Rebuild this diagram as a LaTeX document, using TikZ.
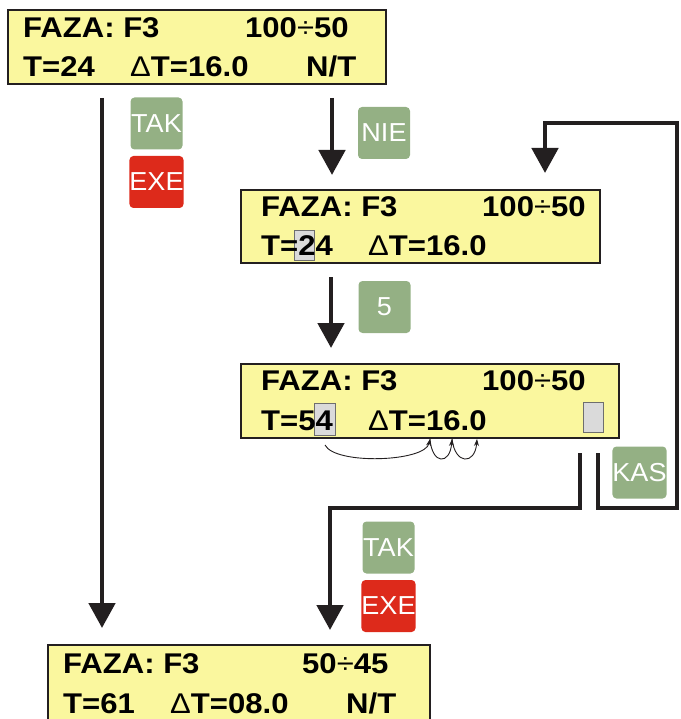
\documentclass[tikz,border=0pt]{standalone}
\usepackage{fontspec}
\setmainfont{Liberation Sans}
\newfontfamily\lcdfont{Liberation Sans}[FakeStretch=1.09]
\newfontfamily\keyfont{Liberation Sans}[FakeStretch=1.04]
\usetikzlibrary{arrows.meta}
\definecolor{lcdyellow}{RGB}{250,247,158}
\definecolor{ink}{RGB}{35,31,32}
\definecolor{keygreen}{RGB}{148,176,132}
\definecolor{keyred}{RGB}{221,42,27}
\definecolor{hlgray}{RGB}{218,218,218}
\definecolor{hledge}{RGB}{110,110,110}
\begin{document}
\begin{tikzpicture}[x=1pt,y=-1pt,
  lcd/.style={draw=ink,line width=2pt,fill=lcdyellow,anchor=north west,inner sep=0pt},
  lcdtxt/.style={anchor=base west,inner sep=0pt,font=\lcdfont\fontsize{28.5}{32}\selectfont\bfseries},
  keybtn/.style={rounded corners=4pt,minimum width=52pt,minimum height=52pt,inner sep=0pt,text=white,font=\keyfont\fontsize{26}{30}\selectfont},
  hl/.style={fill=hlgray,draw=hledge,line width=0.8pt},
  flow/.style={draw=ink,line width=4.8pt,line join=miter,-{Triangle[width=26pt,length=25pt]}},
  jump/.style={draw=ink,line width=0.9pt,-{Stealth[length=7pt,width=5pt]}}]
\useasboundingbox (0,0) rectangle (680,719);
% ---- LCD boxes
\node[lcd,minimum width=378pt,minimum height=74pt] (b1) at (7,9) {};
\node[lcd,minimum width=359pt,minimum height=73pt] (b2) at (240,189) {};
\node[lcd,minimum width=378pt,minimum height=74pt] (b3) at (240,363) {};
\node[lcd,minimum width=382pt,minimum height=80pt] (b4) at (47,644) {};
% highlights
\path[hl] (294,230) rectangle (314,260);
\path[hl] (314,403) rectangle (335,435);
\path[hl] (583,402) rectangle (603,432);
% box 1 text
\node[lcdtxt] (t1a) at (23,38) {FAZA: F3};
\node[lcdtxt] (t1b) at (245,38) {100{\mdseries ÷}50};
\node[lcdtxt] (t1c) at (23,77) {T=24};
\node[lcdtxt] (t1d) at (130,77) {{\mdseries Δ}T=16.0};
\node[lcdtxt] (t1e) at (306,77) {N/T};
% box 2 text
\node[lcdtxt] (t2a) at (261,216) {FAZA: F3};
\node[lcdtxt] (t2b) at (482,216) {100{\mdseries ÷}50};
\node[lcdtxt] (t2c) at (261,255) {T=24};
\node[lcdtxt] (t2d) at (368,255) {{\mdseries Δ}T=16.0};
% box 3 text
\node[lcdtxt] (t3a) at (261,390) {FAZA: F3};
\node[lcdtxt] (t3b) at (482,390) {100{\mdseries ÷}50};
\node[lcdtxt] (t3c) at (261,430) {T=54};
\node[lcdtxt] (t3d) at (368,430) {{\mdseries Δ}T=16.0};
% box 4 text
\node[lcdtxt] (t4a) at (63,673) {FAZA: F3};
\node[lcdtxt] (t4b) at (302,673) {50{\mdseries ÷}45};
\node[lcdtxt] (t4c) at (63,713) {T=61};
\node[lcdtxt] (t4d) at (170,713) {{\mdseries Δ}T=08.0};
\node[lcdtxt] (t4e) at (346,713) {N/T};
% ---- keys
\node[keybtn,fill=keygreen] (tak1) at (156.5,123.5) {TAK};
\node[keybtn,fill=keyred] (exe1) at (156.5,182) {EXE};
\node[keybtn,fill=keygreen] (nie) at (384,133) {NIE};
\node[keybtn,fill=keygreen] (k5) at (384.5,307) {5};
\node[keybtn,fill=keygreen] (tak2) at (388.5,547.5) {TAK};
\node[keybtn,fill=keyred] (exe2) at (388.5,606) {EXE};
\node[keybtn,fill=keygreen] (kas) at (639.5,472.5) {KAS};
% ---- connector points
\coordinate (a1s) at (102,98);  \coordinate (a1e) at (102,628);
\coordinate (a2s) at (332,98);  \coordinate (a2e) at (332,175);
\coordinate (a3s) at (331,277); \coordinate (a3e) at (331,348);
\coordinate (a4s) at (580,453); \coordinate (a4m) at (580,508);
\coordinate (a4n) at (330,508); \coordinate (a4e) at (330,630);
\coordinate (a5s) at (598,453); \coordinate (a5m) at (598,508);
\coordinate (a5n) at (677,508); \coordinate (a5o) at (677,123);
\coordinate (a5p) at (545,123); \coordinate (a5e) at (545,173);
\draw[flow] (a1s) -- (a1e);
\draw[flow] (a2s) -- (a2e);
\draw[flow] (a3s) -- (a3e);
\draw[flow] (a4s) -- (a4m) -- (a4n) -- (a4e);
\draw[flow] (a5s) -- (a5m) -- (a5n) -- (a5o) -- (a5p) -- (a5e);
% ---- cursor jumps
\coordinate (j0) at (325,445);
\coordinate (j1) at (430,439);
\coordinate (j2) at (452,439);
\coordinate (j3) at (477,439);
\draw[jump] (j0) .. controls (335,465) and (425,462) .. (j1);
\draw[jump] (j1) .. controls (432,465) and (450,465) .. (j2);
\draw[jump] (j2) .. controls (455,465) and (475,465) .. (j3);
\end{tikzpicture}
\end{document}
